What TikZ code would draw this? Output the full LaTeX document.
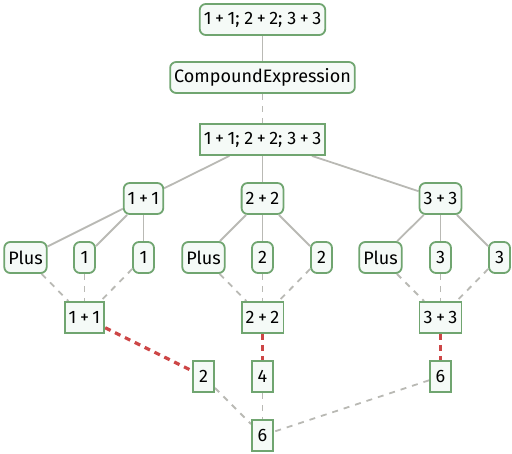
\documentclass[tikz,border=0pt]{standalone}
\usepackage{fontspec}
\setmainfont{Fira Sans}
\usetikzlibrary{backgrounds}
\definecolor{nodeborder}{RGB}{112,165,112}
\definecolor{nodefill}{RGB}{245,250,247}
\definecolor{edgegray}{RGB}{185,185,180}
\definecolor{evalred}{RGB}{205,70,70}
\newcommand{\pl}{\hspace{3.5pt}+\hspace{3.5pt}}
\begin{document}
\begin{tikzpicture}[x=1pt,y=-1pt,
  base/.style={draw=nodeborder,fill=nodefill,line width=1.8pt,inner xsep=4pt,inner ysep=0pt,minimum height=31pt,minimum width=21pt,font=\fontsize{18}{20}\selectfont},
  rnode/.style={base,rounded corners=6pt},
  snode/.style={base},
  tree/.style={draw=edgegray,line width=1.8pt},
  dtree/.style={draw=edgegray,line width=1.8pt,dash pattern=on 6pt off 6pt},
  evaledge/.style={draw=evalred,line width=3.2pt,dash pattern=on 6pt off 5pt}]
\useasboundingbox (0,0) rectangle (512,454);
% nodes
\node[rnode] (top) at (262.5,19.5) {1\pl1; 2\pl2; 3\pl3};
\node[rnode] (ce) at (262.5,77.5) {CompoundExpression};
\node[snode] (ctop) at (262.5,139.5) {1\pl1; 2\pl2; 3\pl3};
\node[rnode] (a) at (143.5,198.5) {1\pl1};
\node[rnode] (b) at (262.5,198.5) {2\pl2};
\node[rnode] (c) at (440.5,198.5) {3\pl3};
\node[rnode] (a1) at (25.5,257.5) {Plus};
\node[rnode] (a2) at (84.5,257.5) {1};
\node[rnode] (a3) at (143.5,257.5) {1};
\node[rnode] (b1) at (203.5,257.5) {Plus};
\node[rnode] (b2) at (262.5,257.5) {2};
\node[rnode] (b3) at (321.5,257.5) {2};
\node[rnode] (c1) at (380.5,257.5) {Plus};
\node[rnode] (c2) at (440.5,257.5) {3};
\node[rnode] (c3) at (499.5,257.5) {3};
\node[snode] (sa) at (84.5,317.5) {1\pl1};
\node[snode] (sb) at (262.5,317.5) {2\pl2};
\node[snode] (sc) at (440.5,317.5) {3\pl3};
\node[snode] (va) at (203.5,376.5) {2};
\node[snode] (vb) at (262.5,376.5) {4};
\node[snode] (vc) at (440.5,376.5) {6};
\node[snode] (res) at (262.5,435.5) {6};
% edges
\begin{scope}[on background layer]
\path[tree] (top) -- (ce);
\path[dtree] (ce) -- (ctop);
\path[tree] (ctop) -- (a);
\path[tree] (ctop) -- (b);
\path[tree] (ctop) -- (c);
\foreach \p in {a,b,c}{
  \path[tree] (\p) -- (\p1);
  \path[tree] (\p) -- (\p2);
  \path[tree] (\p) -- (\p3);
  \path[dtree] (\p1) -- (s\p);
  \path[dtree] (\p2) -- (s\p);
  \path[dtree] (\p3) -- (s\p);
  \path[evaledge] (s\p) -- (v\p);
  \path[dtree] (v\p) -- (res);
}
\end{scope}
\end{tikzpicture}
\end{document}
